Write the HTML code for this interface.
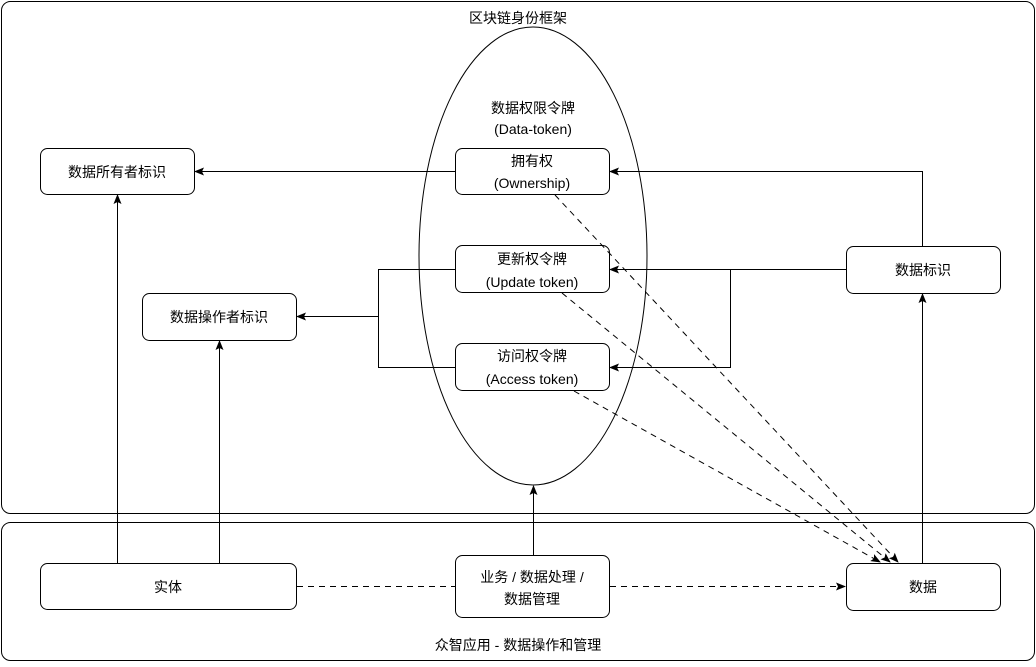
<!DOCTYPE html>
<html><head><meta charset="utf-8"><style>
body{margin:0;background:#fff;}
svg text{font-family:"Liberation Sans","Noto Sans CJK SC",sans-serif;font-size:14px;fill:#000;text-anchor:middle;}
</style></head><body>
<svg width="1036" height="662" xmlns="http://www.w3.org/2000/svg">
<defs><marker id="a" markerWidth="10" markerHeight="8" refX="9" refY="4" orient="auto" markerUnits="userSpaceOnUse"><path d="M0,0 L10,4 L0,8 L2,4 Z" fill="#000"/></marker></defs>
<g fill="none" stroke="#000" stroke-width="1">
<rect x="1.5" y="1.5" width="1033" height="512" rx="9"/>
<rect x="1.5" y="522.5" width="1033" height="138" rx="9"/>
<ellipse cx="533" cy="256" rx="114" ry="229"/>
<rect x="40.5" y="148.5" width="154" height="46" rx="7"/>
<rect x="455.5" y="148.5" width="154" height="46" rx="7"/>
<rect x="455.5" y="245.5" width="154" height="47" rx="7"/>
<rect x="455.5" y="343.5" width="154" height="47" rx="7"/>
<rect x="142.5" y="293.5" width="154" height="47" rx="7"/>
<rect x="846.5" y="246.5" width="154" height="47" rx="7"/>
<rect x="40.5" y="563.5" width="256" height="46" rx="7"/>
<rect x="455.5" y="555.5" width="154" height="62" rx="7"/>
<rect x="846.5" y="563.5" width="154" height="47" rx="7"/>
<path d="M455.5,171.5 H195" marker-end="url(#a)"/>
<path d="M922.5,246 V171.5 H610" marker-end="url(#a)"/>
<path d="M846,269.5 H610" marker-end="url(#a)"/>
<path d="M730.5,269.5 V367.5 H610" marker-end="url(#a)"/>
<path d="M455,269.5 H378.5 V367.5 H455"/>
<path d="M378.5,316.5 H297" marker-end="url(#a)"/>
<path d="M117.5,563 V195" marker-end="url(#a)"/>
<path d="M219.5,563 V341" marker-end="url(#a)"/>
<path d="M533.5,555 V486" marker-end="url(#a)"/>
<path d="M922.5,563 V294" marker-end="url(#a)"/>
<g stroke-dasharray="6,5">
<path d="M297,586.5 H455"/>
<path d="M610,586.5 H845" marker-end="url(#a)"/>
<path d="M555,195 L898,562" marker-end="url(#a)"/>
<path d="M562,293 L890,562" marker-end="url(#a)"/>
<path d="M574,391 L880,562" marker-end="url(#a)"/>
</g>
</g>
<text x="518" y="23">区块链身份框架</text>
<text x="533" y="113">数据权限令牌</text>
<text x="533" y="134">(Data-token)</text>
<text x="117" y="177">数据所有者标识</text>
<text x="532" y="166">拥有权</text>
<text x="532" y="188">(Ownership)</text>
<text x="532" y="264">更新权令牌</text>
<text x="532" y="287">(Update token)</text>
<text x="532" y="361">访问权令牌</text>
<text x="532" y="384">(Access token)</text>
<text x="219" y="322">数据操作者标识</text>
<text x="923" y="275">数据标识</text>
<text x="168" y="592">实体</text>
<text x="532" y="582">业务 / 数据处理 /</text>
<text x="532" y="604">数据管理</text>
<text x="923" y="592">数据</text>
<text x="518" y="650">众智应用 - 数据操作和管理</text>
</svg>
</body></html>
